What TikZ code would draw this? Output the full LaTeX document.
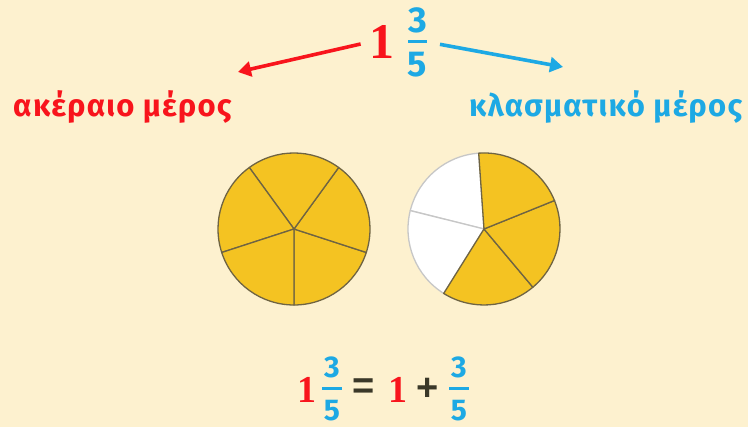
\documentclass[tikz,border=0pt]{standalone}
\usepackage{fontspec}
\setmainfont{Fira Sans}
\newfontfamily\wholefont{Liberation Serif}
\newfontfamily\labelfont[LetterSpace=4]{Fira Sans}
\newfontfamily\signfont{Liberation Sans}
\usetikzlibrary{arrows.meta,positioning}
\definecolor{bgcream}{HTML}{FDF1CF}
\definecolor{wholered}{HTML}{F8141C}
\definecolor{partblue}{HTML}{1DA9E4}
\definecolor{signdark}{HTML}{3A3828}
\definecolor{piegold}{HTML}{F4C322}
\definecolor{pieline}{HTML}{6F6443}
\tikzset{
  labeltext/.style={font=\fontsize{31}{34}\selectfont\labelfont\bfseries,inner sep=0pt,anchor=base west},
  bigwhole/.style={font=\fontsize{50}{50}\selectfont\wholefont\bfseries,text=wholered,inner sep=0pt},
  smallwhole/.style={font=\fontsize{38}{38}\selectfont\wholefont\bfseries,text=wholered,inner sep=0pt},
  fracdigit/.style={font=\fontsize{36}{36}\selectfont\bfseries,text=partblue,inner sep=0pt},
  smalldigit/.style={font=\fontsize{30}{30}\selectfont\bfseries,text=partblue,inner sep=0pt},
  fracbar/.style={fill=partblue,inner sep=0pt,minimum height=3pt},
  signtext/.style={font=\fontsize{38}{38}\selectfont\signfont\bfseries,text=signdark,inner sep=0pt},
  partarrow/.style={-{Triangle[length=13pt,width=15pt]},line width=3.6pt},
  slicegold/.style={fill=piegold,draw=pieline,line width=1.3pt,line join=round},
  sliceblank/.style={fill=white,draw=black!22,line width=1.3pt,line join=round}
}

\begin{document}
\begin{tikzpicture}[x=1pt,y=1pt]
  \useasboundingbox (0,0) rectangle (748,427);
  \fill[bgcream] (0,0) rectangle (748,427);

  \node[fracbar,minimum width=19pt] (topbar) at (417.5,385) {};
  \node[fracdigit,above=7pt of topbar] (topnum) {3};
  \node[fracdigit,below=8pt of topbar] (topden) {5};
  \node[bigwhole,left=13pt of topbar] (one) {1};

  \coordinate (wholetip) at (238,355);
  \coordinate (parttip) at (563,360);
  \draw[partarrow,wholered,shorten <=9pt] (one.west) -- (wholetip);
  \draw[partarrow,partblue,shorten <=13pt] (topbar.east) -- (parttip);

  \node[labeltext,text=wholered] (whole) at (13,310) {ακέραιο μέρος};
  \node[labeltext,text=partblue] (part) at (469,310) {κλασματικό μέρος};

  \foreach \a in {270,342,54,126,198}
    \draw[slicegold] (294,198) -- ++(\a:76) arc[start angle=\a,delta angle=72,radius=76pt] -- cycle;
  \foreach \a in {94,166}
    \draw[sliceblank] (484,198) -- ++(\a:76) arc[start angle=\a,delta angle=72,radius=76pt] -- cycle;
  \foreach \a in {238,310,22}
    \draw[slicegold] (484,198) -- ++(\a:76) arc[start angle=\a,delta angle=72,radius=76pt] -- cycle;

  \node[smallwhole] (eqone) at (306.5,37.5) {1};
  \node[fracbar,minimum width=20pt] (eqbar) at (332,38) {};
  \node[smalldigit,above=9pt of eqbar] (eqnum) {3};
  \node[smalldigit,below=9pt of eqbar] (eqden) {5};
  \node[signtext] (equals) at (364,38) {=};
  \node[smallwhole] (sumone) at (397.5,37.5) {1};
  \node[signtext] (plus) at (428,38) {+};
  \node[fracbar,minimum width=20pt] (sumbar) at (459,38) {};
  \node[smalldigit,above=9pt of sumbar] (sumnum) {3};
  \node[smalldigit,below=9pt of sumbar] (sumden) {5};
\end{tikzpicture}
\end{document}
